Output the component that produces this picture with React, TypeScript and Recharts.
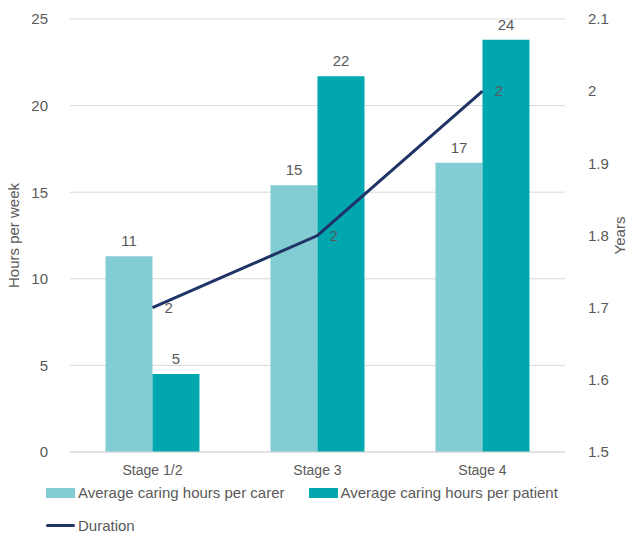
import { Bar, CartesianGrid, ComposedChart, LabelList, Legend, Line, XAxis, YAxis } from "recharts";

const stages = ["Stage 1/2", "Stage 3", "Stage 4"];
const perCarer = [11.3, 15.4, 16.7];
const perPatient = [4.5, 21.7, 23.8];
const duration = [1.7, 1.8, 2.0];

const hoursTicks = [0, 5, 10, 15, 20, 25];
const yearsTicks = [1.5, 1.6, 1.7, 1.8, 1.9, 2.0, 2.1];

const data = stages.map((stage, i) => ({
  stage,
  carer: perCarer[i],
  patient: perPatient[i],
  duration: duration[i],
}));

const FONT = "'Liberation Sans', Arial, sans-serif";
const TEXT = "#595959";

function LegendBox() {
  const item = (swatch: React.ReactNode, label: string, gap: number) => (
    <span style={{ display: "inline-flex", alignItems: "center", marginRight: gap }}>
      {swatch}
      <span style={{ marginLeft: 3 }}>{label}</span>
    </span>
  );
  const box = (color: string) => <span style={{ display: "inline-block", width: 29, height: 10, background: color }} />;
  return (
    <div style={{ fontFamily: FONT, fontSize: 15, color: TEXT, paddingLeft: 46, paddingTop: 2, textAlign: "left", lineHeight: "18px" }}>
      <div>
        {item(box("#82CDD3"), "Average caring hours per carer", 24)}
        {item(box("#00A7AF"), "Average caring hours per patient", 0)}
      </div>
      <div style={{ marginTop: 11 }}>
        {item(<span style={{ display: "inline-block", width: 29, height: 3, background: "#1F3366", borderRadius: 2 }} />, "Duration", 0)}
      </div>
    </div>
  );
}

export default function App() {
  return (
    <div style={{ position: "absolute", left: 0, top: 0, background: "#fff" }}>
      <ComposedChart
        width={630}
        height={533}
        data={data}
        margin={{ top: 19, right: 0, left: 0, bottom: 0 }}
        barGap={0}
        barCategoryGap="21.5%"
        style={{ fontFamily: FONT }}
      >
        <CartesianGrid vertical={false} stroke="#D9D9D9" yAxisId="hours" />
        <XAxis
          dataKey="stage"
          axisLine={{ stroke: "#D9D9D9" }}
          tickLine={false}
          tick={{ fill: TEXT, fontSize: 14 }}
          height={30}
          tickMargin={7}
        />
        <YAxis
          yAxisId="hours"
          domain={[0, 25]}
          ticks={hoursTicks}
          axisLine={false}
          tickLine={false}
          width={70}
          tickMargin={16}
          tick={{ fill: TEXT, fontSize: 15 }}
          label={{ value: "Hours per week", angle: -90, position: "insideLeft", offset: 14, fill: TEXT, fontSize: 15, style: { textAnchor: "middle" } }}
        />
        <YAxis
          yAxisId="years"
          orientation="right"
          domain={[1.5, 2.1]}
          ticks={yearsTicks}
          axisLine={false}
          tickLine={false}
          width={65}
          tickMargin={17}
          tick={{ fill: TEXT, fontSize: 15 }}
          tickFormatter={(v: number) => String(Number(v.toFixed(1)))}
          label={{ value: "Years", angle: -90, position: "insideRight", offset: 10, fill: TEXT, fontSize: 15, style: { textAnchor: "middle" } }}
        />
        <Legend verticalAlign="bottom" height={51} content={() => <LegendBox />} />
        <Bar yAxisId="hours" dataKey="carer" fill="#82CDD3" isAnimationActive={false}>
          <LabelList dataKey="carer" position="top" offset={10} fill={TEXT} fontSize={15} formatter={(v: number) => Math.round(v)} />
        </Bar>
        <Bar yAxisId="hours" dataKey="patient" fill="#00A7AF" isAnimationActive={false}>
          <LabelList dataKey="patient" position="top" offset={10} fill={TEXT} fontSize={15} formatter={(v: number) => Math.round(v)} />
        </Bar>
        <Line
          yAxisId="years"
          dataKey="duration"
          stroke="#1F3366"
          strokeWidth={3}
          dot={false}
          activeDot={false}
          type="linear"
          isAnimationActive={false}
        >
          <LabelList dataKey="duration" position="right" offset={12} fill={TEXT} fontSize={15} formatter={(v: number) => Math.round(v)} />
        </Line>
      </ComposedChart>
    </div>
  );
}
